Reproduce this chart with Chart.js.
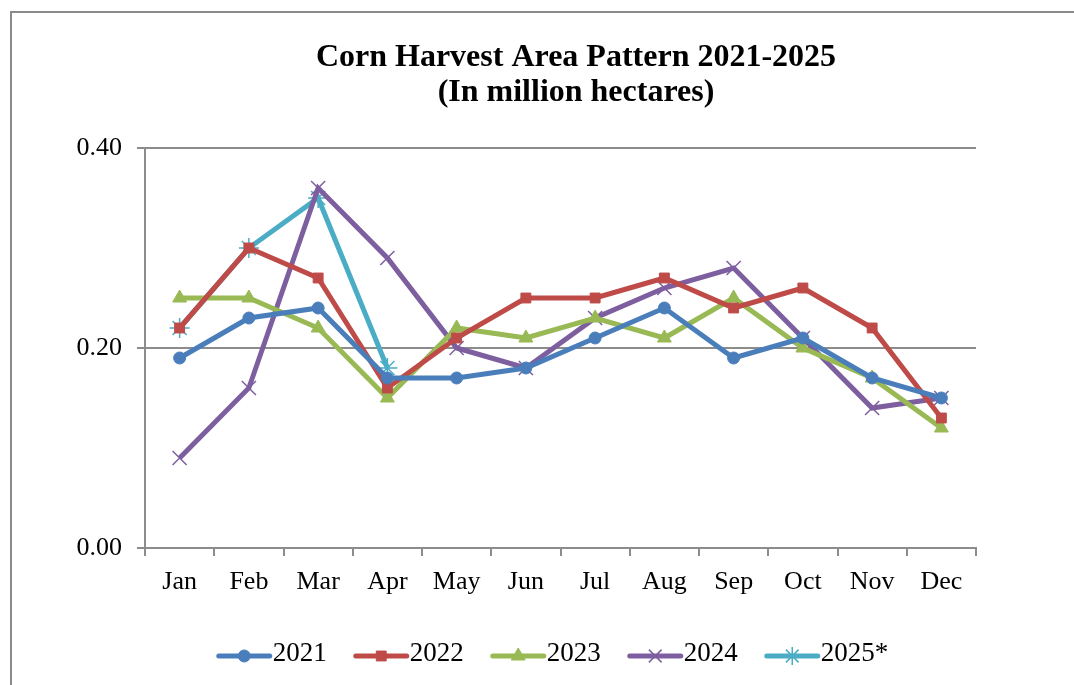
<!DOCTYPE html>
<html>
<head>
<meta charset="utf-8">
<script src="https://cdn.jsdelivr.net/npm/chart.js@4.4.1/dist/chart.umd.min.js"></script>
<style>
  html, body { margin: 0; padding: 0; background: #fff; }
  #wrap { position: relative; width: 1074px; height: 685px; }
</style>
</head>
<body>
<div id="wrap"><canvas id="myChart1" width="1074" height="685"></canvas></div>
<script>
var months = ['Jan', 'Feb', 'Mar', 'Apr', 'May', 'Jun', 'Jul', 'Aug', 'Sep', 'Oct', 'Nov', 'Dec'];
var yTicks = [0, 0.2, 0.4];
var area2021 = [0.19, 0.23, 0.24, 0.17, 0.17, 0.18, 0.21, 0.24, 0.19, 0.21, 0.17, 0.15];
var area2022 = [0.22, 0.30, 0.27, 0.16, 0.21, 0.25, 0.25, 0.27, 0.24, 0.26, 0.22, 0.13];
var area2023 = [0.25, 0.25, 0.22, 0.15, 0.22, 0.21, 0.23, 0.21, 0.25, 0.20, 0.17, 0.12];
var area2024 = [0.09, 0.16, 0.36, 0.29, 0.20, 0.18, 0.23, 0.26, 0.28, 0.21, 0.14, 0.15];
var area2025 = [0.22, 0.30, 0.35, 0.18];
var titleLines = ['Corn Harvest Area Pattern 2021-2025', '(In million hectares)'];

var serif = '"Liberation Serif", "Times New Roman", serif';
var gridGray = '#8c8c8c';

function series(label, data, color, style, radius, bw) {
  return {
    label: label,
    data: data,
    borderColor: color,
    backgroundColor: color,
    borderWidth: 5,
    pointStyle: style,
    pointRadius: radius,
    pointHoverRadius: radius,
    pointBorderColor: color,
    pointBackgroundColor: color,
    pointBorderWidth: bw,
    fill: false,
    tension: 0
  };
}

var datasets = [
  series('2021', area2021, '#4a7ebb', 'circle', 6, 1),
  series('2022', area2022, '#be4b48', 'rect', 7, 1),
  series('2023', area2023, '#98b954', 'triangle', 8, 1),
  series('2024', area2024, '#7d5fa0', 'crossRot', 10, 1.5),
  series('2025*', area2025, '#4bacc6', 'star', 10, 1.5)
];

// frame, title and legend are drawn by hand
var decor = {
  id: 'decor',
  beforeDraw: function (chart) {
    var ctx = chart.ctx;
    ctx.save();
    ctx.strokeStyle = '#8a8a8a';
    ctx.lineWidth = 2;
    ctx.beginPath();
    ctx.moveTo(11, 685);
    ctx.lineTo(11, 12);
    ctx.lineTo(1074, 12);
    ctx.stroke();
    ctx.restore();
  },
  afterDraw: function (chart) {
    var ctx = chart.ctx;
    ctx.save();
    ctx.fillStyle = '#000';
    ctx.textAlign = 'center';
    ctx.textBaseline = 'middle';
    ctx.font = 'bold 32px ' + serif;
    ctx.fillText(titleLines[0], 576, 58);
    ctx.fillText(titleLines[1], 576, 93);

    // legend
    ctx.font = '27px ' + serif;
    var lineLen = 57, gap = 26, y = 656;
    var items = chart.data.datasets.map(function (ds) {
      return { ds: ds, w: lineLen + ctx.measureText(ds.label).width };
    });
    var total = items.reduce(function (s, it) { return s + it.w; }, 0) + gap * (items.length - 1);
    var x = 552 - total / 2;
    items.forEach(function (it) {
      var ds = it.ds;
      var r = ds.pointStyle === 'crossRot' || ds.pointStyle === 'star' ? 9 : ds.pointRadius;
      ctx.strokeStyle = ds.borderColor;
      ctx.lineWidth = 5;
      ctx.lineCap = 'round';
      ctx.beginPath();
      ctx.moveTo(x + 3, y);
      ctx.lineTo(x + lineLen - 3, y);
      ctx.stroke();
      ctx.lineCap = 'butt';
      ctx.fillStyle = ds.pointBackgroundColor;
      ctx.strokeStyle = ds.pointBorderColor;
      ctx.lineWidth = ds.pointBorderWidth;
      Chart.helpers.drawPoint(ctx, {
        pointStyle: ds.pointStyle,
        radius: r,
        borderWidth: ds.pointBorderWidth
      }, x + lineLen / 2, y);
      ctx.fillStyle = '#000';
      ctx.textAlign = 'left';
      ctx.fillText(ds.label, x + lineLen, y - 2);
      x += it.w + gap;
    });
    ctx.restore();
  }
};

var chart = document.getElementById('myChart1').getContext('2d');
var myChart1 = new Chart(chart, {
  type: 'line',
  data: { labels: months, datasets: datasets },
  plugins: [decor],
  options: {
    responsive: false,
    animation: false,
    layout: { padding: { top: 148, right: 98, bottom: 87, left: 0 } },
    plugins: {
      legend: { display: false },
      title: { display: false },
      tooltip: { enabled: false }
    },
    scales: {
      x: {
        offset: true,
        afterFit: function (s) { s.height = 50; },
        grid: {
          offset: true,
          drawOnChartArea: false,
          drawTicks: true,
          tickLength: 8,
          color: gridGray,
          lineWidth: 2
        },
        border: { color: gridGray, width: 2 },
        ticks: {
          color: '#000',
          padding: 11,
          maxRotation: 0,
          font: { family: serif, size: 26 }
        }
      },
      y: {
        min: 0,
        max: 0.4,
        afterFit: function (s) { s.width = 145; },
        afterBuildTicks: function (s) {
          s.ticks = yTicks.map(function (v) { return { value: v }; });
        },
        grid: {
          drawTicks: true,
          tickLength: 8,
          color: gridGray,
          lineWidth: 2
        },
        border: { color: gridGray, width: 2 },
        ticks: {
          color: '#000',
          padding: 15,
          font: { family: serif, size: 26 },
          callback: function (v) { return Number(v).toFixed(2); }
        }
      }
    }
  }
});
</script>
</body>
</html>
